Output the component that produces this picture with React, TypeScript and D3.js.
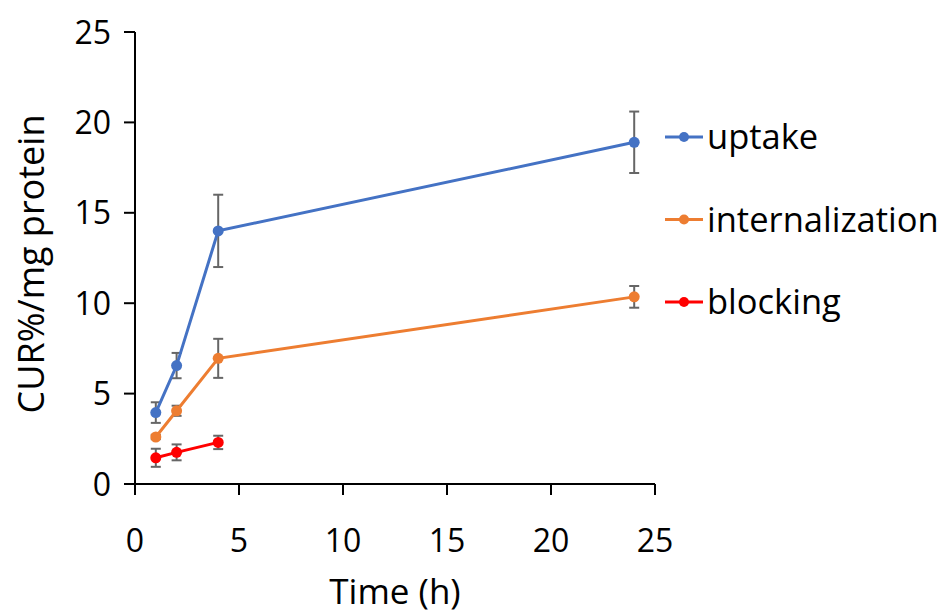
import React from "react";
import * as d3 from "d3";

const hours = [1, 2, 4, 24];
const seriesNames = ["uptake", "internalization", "blocking"];
const uptakeVals = [3.95, 6.55, 14.0, 18.9];
const uptakeErr = [0.57, 0.7, 2.0, 1.7];
const internVals = [2.6, 4.05, 6.95, 10.35];
const internErr = [0.12, 0.28, 1.08, 0.6];
const blockingVals = [1.45, 1.75, 2.3];
const blockingErr = [0.5, 0.44, 0.37];
const xTicks = [0, 5, 10, 15, 20, 25];
const yTicks = [0, 5, 10, 15, 20, 25];

const colors = ["#4472C4", "#ED7D31", "#FF0000"];
const FONT = "'Open Sans', 'Noto Sans', sans-serif";

const App = () => {
  const width = 946, height = 610;
  const margin = { left: 135, right: 291, top: 32, bottom: 126 };
  const x = d3.scaleLinear().domain([0, 25]).range([margin.left, width - margin.right]);
  const y = d3.scaleLinear().domain([0, 25]).range([height - margin.bottom, margin.top]);

  const series = [
    { vals: uptakeVals, err: uptakeErr },
    { vals: internVals, err: internErr },
    { vals: blockingVals, err: blockingErr },
  ];

  const line = d3.line<[number, number]>().x((d) => x(d[0])).y((d) => y(d[1]));

  return (
    <svg width={width} height={height} style={{ position: "absolute", left: 0, top: 0, background: "#fff" }}>
      {/* axes */}
      <line x1={x(0)} x2={x(25)} y1={y(0)} y2={y(0)} stroke="#000" strokeWidth={2} />
      <line x1={x(0)} x2={x(0)} y1={y(0)} y2={y(25)} stroke="#000" strokeWidth={2} />
      {yTicks.map((t) => (
        <g key={"y" + t}>
          <line x1={x(0) - 11} x2={x(0)} y1={y(t)} y2={y(t)} stroke="#000" strokeWidth={2} />
          <text x={x(0) - 24} y={y(t)} dy="0.36em" textAnchor="end" fontSize={32} fontFamily={FONT} fill="#000">{t}</text>
        </g>
      ))}
      {xTicks.map((t) => (
        <g key={"x" + t}>
          <line x1={x(t)} x2={x(t)} y1={y(0)} y2={y(0) + 11} stroke="#000" strokeWidth={2} />
          <text x={x(t)} y={y(0) + 68} textAnchor="middle" fontSize={32} fontFamily={FONT} fill="#000">{t}</text>
        </g>
      ))}
      <text x={(x(0) + x(25)) / 2} y={604} textAnchor="middle" fontSize={35} fontFamily={FONT} fill="#000">Time (h)</text>
      <text transform={`translate(44,${(y(0) + y(25)) / 2 + 6}) rotate(-90)`} textAnchor="middle" fontSize={36} fontFamily={FONT} fill="#000">CUR%/mg protein</text>

      {/* error bars */}
      {series.map((s, si) => s.vals.map((v, i) => {
        const cx = x(hours[i]);
        const e = s.err[i];
        return (
          <g key={`e${si}-${i}`} stroke="#666" strokeWidth={2}>
            <line x1={cx} x2={cx} y1={y(v - e)} y2={y(v + e)} />
            <line x1={cx - 5} x2={cx + 5} y1={y(v - e)} y2={y(v - e)} />
            <line x1={cx - 5} x2={cx + 5} y1={y(v + e)} y2={y(v + e)} />
          </g>
        );
      }))}

      {/* lines and markers */}
      {series.map((s, si) => (
        <g key={"s" + si}>
          <path d={line(s.vals.map((v, i) => [hours[i], v] as [number, number])) || ""} fill="none" stroke={colors[si]} strokeWidth={3} />
          {s.vals.map((v, i) => (
            <circle key={i} cx={x(hours[i])} cy={y(v)} r={5.5} fill={colors[si]} />
          ))}
        </g>
      ))}

      {/* legend */}
      {seriesNames.map((n, i) => {
        const ly = 137 + i * 82.5;
        return (
          <g key={"l" + n}>
            <line x1={665} x2={703} y1={ly} y2={ly} stroke={colors[i]} strokeWidth={3} />
            <circle cx={684} cy={ly} r={5} fill={colors[i]} />
            <text x={707} y={ly} dy="0.36em" fontSize={34.5} fontFamily={FONT} fill="#000">{n}</text>
          </g>
        );
      })}
    </svg>
  );
};

export default App;
